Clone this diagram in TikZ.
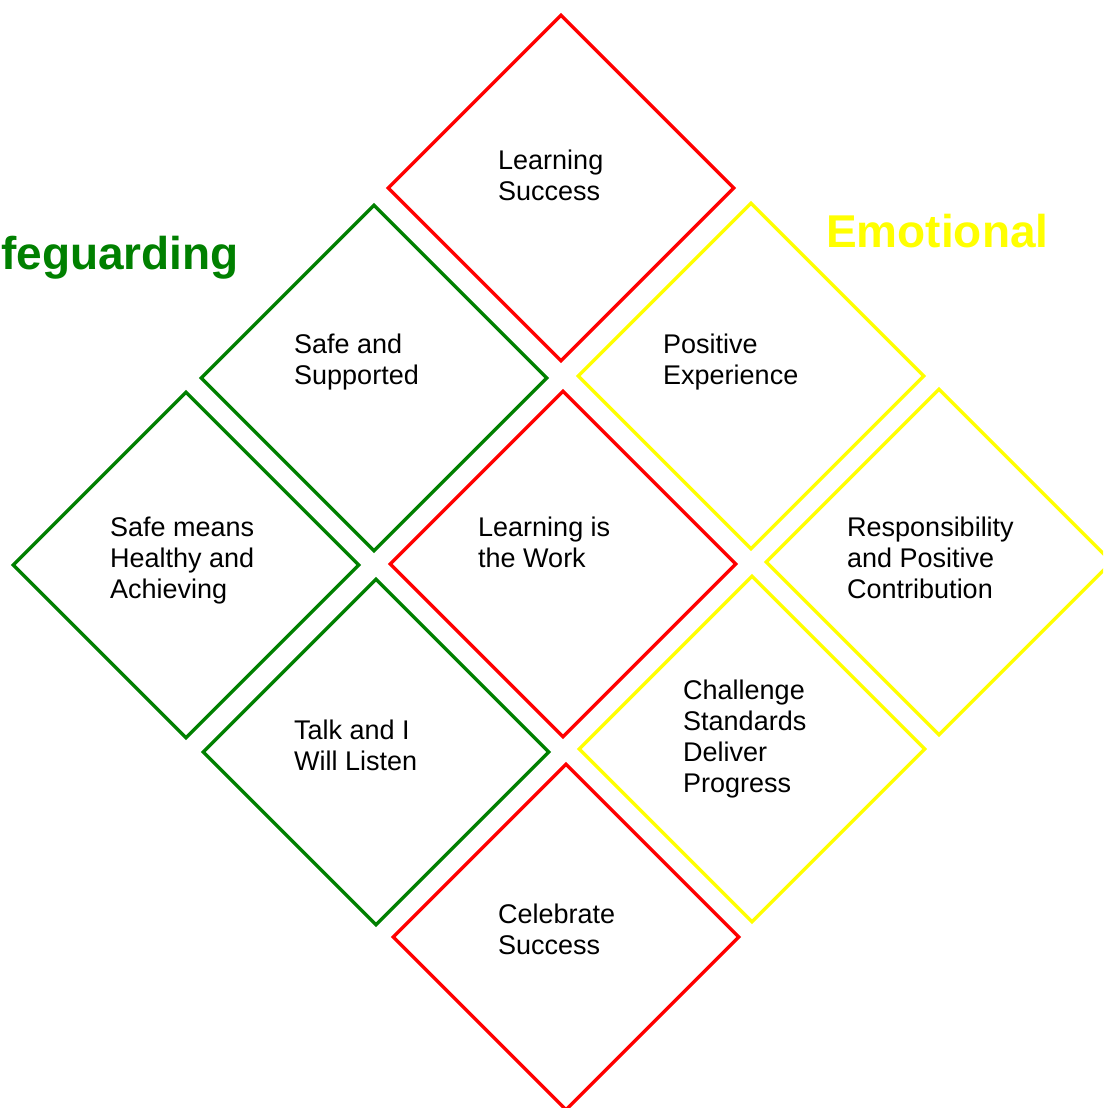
\documentclass[tikz,border=0pt]{standalone}
\usepackage{fontspec}
\setmainfont{Liberation Sans}
\usetikzlibrary{shapes.geometric}
\definecolor{sgreen}{RGB}{0,128,0}
\definecolor{syellow}{RGB}{255,255,0}
\definecolor{sred}{RGB}{255,0,0}

\begin{document}
\begin{tikzpicture}[x=1pt,y=-1pt,
    tile/.style={diamond, draw, line width=3.4pt, minimum width=347pt,
      minimum height=347pt, inner sep=0pt},
    txt/.style={anchor=north west, inner sep=0pt, align=left,
      font=\fontsize{27}{31}\selectfont},
    heading/.style={anchor=base west, inner sep=0pt,
      font=\fontsize{46}{55}\selectfont\bfseries}]
  \useasboundingbox (0,0) rectangle (1103,1108);
  \clip (0,0) rectangle (1103,1108);

  % the nine tiles
  \node[tile, sred] (learnsucc) at (561,188) {};
  \node[tile, sgreen] (safesupp) at (374,378) {};
  \node[tile, syellow] (posexp) at (751,376) {};
  \node[tile, sgreen] (safemeans) at (186,565) {};
  \node[tile, sred] (learnwork) at (563,564) {};
  \node[tile, syellow] (respons) at (939,562) {};
  \node[tile, sgreen] (talk) at (376,752) {};
  \node[tile, syellow] (challenge) at (752,749) {};
  \node[tile, sred] (celebrate) at (566,937) {};

  % texts
  \node[txt] (t-learnsucc) at (498,149.6) {Learning\\Success};
  \node[txt] (t-safesupp) at (294,333.6) {Safe and\\Supported};
  \node[txt] (t-posexp) at (663,333.6) {Positive\\Experience};
  \node[txt] (t-safemeans) at (110,516.6) {Safe means\\Healthy and\\Achieving};
  \node[txt] (t-learnwork) at (478,516.6) {Learning is\\the Work};
  \node[txt] (t-respons) at (847,516.6) {Responsibility\\and Positive\\Contribution};
  \node[txt] (t-talk) at (294,719.6) {Talk and I\\Will Listen};
  \node[txt] (t-challenge) at (683,679.6) {Challenge\\Standards\\Deliver\\Progress};
  \node[txt] (t-celebrate) at (498,903.6) {Celebrate\\Success};

  % headings
  \node[heading, sgreen] (h-safe) at (1,269) {feguarding};
  \node[heading, syellow] (h-emo) at (826,247) {Emotional};
\end{tikzpicture}
\end{document}
